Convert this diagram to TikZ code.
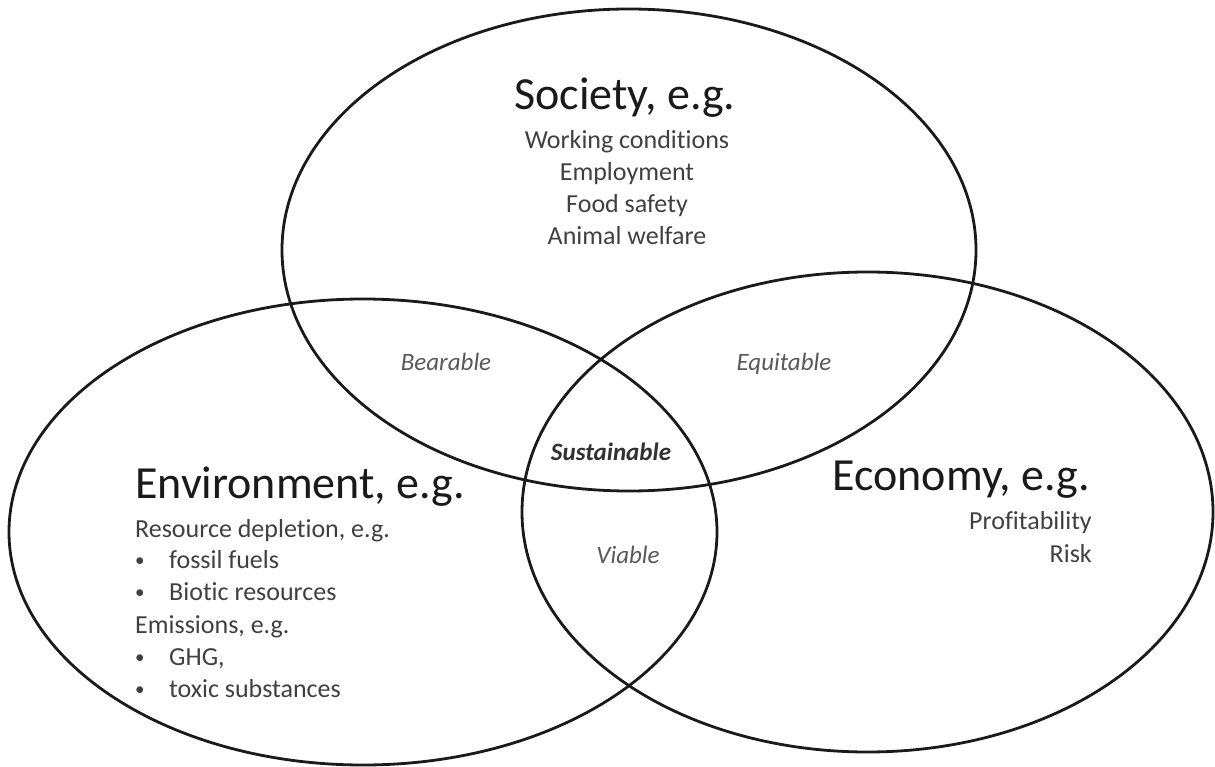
\documentclass[tikz,border=0pt]{standalone}
\usepackage{fontspec}
\setmainfont{Carlito}[Ligatures=NoCommon]
\definecolor{subgray}{HTML}{404040}
\definecolor{labgray}{HTML}{595959}
\definecolor{inkblack}{HTML}{1A1A1A}
\begin{document}
\begin{tikzpicture}[x=1pt,y=-1pt,
  ring/.style={line width=2.8pt, draw=inkblack},
  head/.style={inner sep=0pt, font=\fontsize{46}{55}\selectfont, text=inkblack},
  sub/.style={inner sep=0pt, font=\fontsize{26}{31}\selectfont, text=subgray},
  dot/.style={inner sep=0pt, font=\fontsize{19}{23}\selectfont, text=subgray},
  region/.style={inner sep=0pt, font=\fontsize{25}{30}\selectfont\itshape, text=labgray},
  core/.style={inner sep=0pt, font=\fontsize{25}{30}\selectfont\bfseries\itshape, text=inkblack!90}]
\useasboundingbox (0,0) rectangle (1215,767);
\fill[white] (0,0) rectangle (1215,767);

\coordinate (soc) at (629,250);
\coordinate (env) at (363,532);
\coordinate (eco) at (867.5,512);

\draw[ring] (soc) ellipse [x radius=347pt, y radius=241pt];
\draw[ring] (env) ellipse [x radius=354pt, y radius=233pt];
\draw[ring] (eco) ellipse [x radius=345.5pt, y radius=240pt];

% Society
\node[head, anchor=base] (sochead) at (625,110) {Society, e.g.};
\node[sub, anchor=base] (soc1) at (627,149) {Working conditions};
\node[sub, anchor=base] (soc2) at (627,181) {Employment};
\node[sub, anchor=base] (soc3) at (627,213) {Food safety};
\node[sub, anchor=base] (soc4) at (627,245) {Animal welfare};

% Environment
\node[head, anchor=base west] (envhead) at (135,498) {Environment, e.g.};
\node[sub, anchor=base west] (env1) at (135,537) {Resource depletion, e.g.};
\node[dot, anchor=base west] (envb1) at (135,566) {•};
\node[sub, anchor=base west] (env2) at (169,568) {fossil fuels};
\node[dot, anchor=base west] (envb2) at (135,598) {•};
\node[sub, anchor=base west] (env3) at (169,600) {Biotic resources};
\node[sub, anchor=base west] (env4) at (135,633) {Emissions, e.g.};
\node[dot, anchor=base west] (envb3) at (135,663) {•};
\node[sub, anchor=base west] (env5) at (169,665) {GHG,};
\node[dot, anchor=base west] (envb4) at (135,695) {•};
\node[sub, anchor=base west] (env6) at (169,697) {toxic substances};

% Economy
\node[head, anchor=base east] (ecohead) at (1090,490) {Economy, e.g.};
\node[sub, anchor=base east] (eco1) at (1092,529) {Profitability};
\node[sub, anchor=base east] (eco2) at (1092,562) {Risk};

% Overlaps
\node[region, anchor=base] (bear) at (446,370) {Bearable};
\node[region, anchor=base] (equi) at (784,370) {Equitable};
\node[core, anchor=base] (sust) at (611,460) {Sustainable};
\node[region, anchor=base] (viab) at (628,563) {Viable};
\end{tikzpicture}
\end{document}
